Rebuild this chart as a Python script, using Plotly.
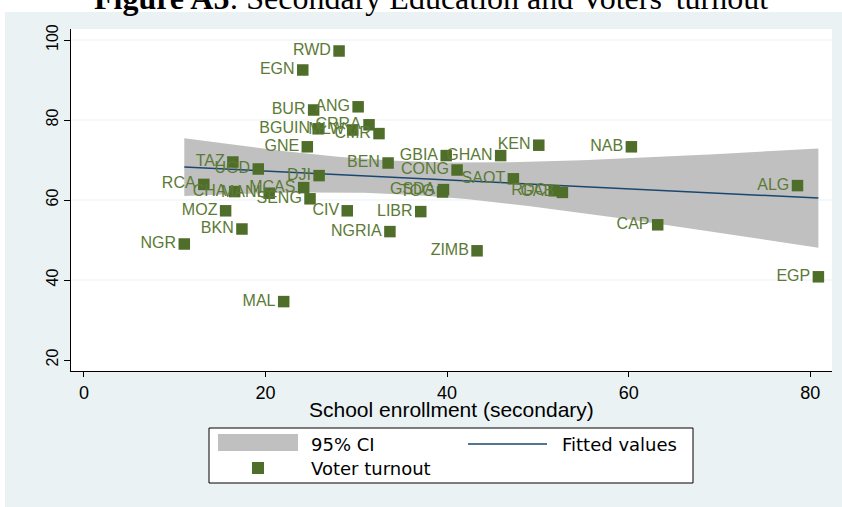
import numpy as np
import plotly.graph_objects as go

# ---- data ----
countries = ["RWD", "EGN", "BUR", "ANG", "CRRA", "BGUIN", "MLW", "CMR", "GNE",
             "TAZ", "UGD", "DJI", "BEN", "GBIA", "GHAN", "CONG", "SAOT", "KEN",
             "RDC", "GAB", "GSDA", "TOG", "RCA", "CHA", "MANI", "MCAS", "SENG",
             "MOZ", "CIV", "LIBR", "BKN", "NGRIA", "NGR", "ZIMB", "MAL", "NAB",
             "ALG", "CAP", "EGP"]
enrollment = [28.1, 24.1, 25.3, 30.2, 31.4, 25.8, 29.6, 32.5, 24.6,
              16.4, 19.2, 25.9, 33.5, 39.9, 45.9, 41.1, 47.3, 50.1,
              51.8, 52.7, 39.6, 39.5, 13.2, 16.6, 20.4, 24.2, 24.9,
              15.6, 29.0, 37.1, 17.4, 33.7, 11.05, 43.3, 22.0, 60.3,
              78.6, 63.2, 80.9]
turnout = [97.25, 92.5, 82.5, 83.3, 78.8, 77.8, 77.5, 76.6, 73.3,
           69.5, 67.75, 66.1, 69.25, 71.1, 71.1, 67.5, 65.3, 73.7,
           62.3, 61.9, 62.6, 62.0, 63.9, 62.1, 61.7, 63.1, 60.3,
           57.3, 57.3, 57.1, 52.75, 52.1, 49.0, 47.3, 34.6, 73.3,
           63.6, 53.8, 40.8]
x_ticks = [0, 20, 40, 60, 80]
y_ticks = [20, 40, 60, 80, 100]
grid_vals = [40, 60, 80, 100]

# ---- linear fit with 95% CI (as Stata lfitci) ----
x = np.array(enrollment)
y = np.array(turnout)
n = len(x)
b, a = np.polyfit(x, y, 1)
resid = y - (a + b * x)
s = np.sqrt(np.sum(resid ** 2) / (n - 2))
xbar = x.mean()
sxx = np.sum((x - xbar) ** 2)
t_crit = 2.026
xs = np.linspace(x.min(), x.max(), 100)
fit = a + b * xs
half = t_crit * s * np.sqrt(1.0 / n + (xs - xbar) ** 2 / sxx)
lo, hi = fit - half, fit + half

GREEN = "#4f6e29"
TXT = "#5b7a35"
NAVY = "#1a476f"
BG = "#eaf2f3"

fig = go.Figure()
fig.add_trace(go.Scatter(x=np.concatenate([xs, xs[::-1]]), y=np.concatenate([hi, lo[::-1]]),
                         fill="toself", fillcolor="#c0c0c0", line=dict(width=0),
                         mode="lines", hoverinfo="skip", showlegend=False))
fig.add_trace(go.Scatter(x=xs, y=fit, mode="lines", line=dict(color=NAVY, width=1.5),
                         showlegend=False))
fig.add_trace(go.Scatter(x=enrollment, y=turnout, mode="markers+text", text=countries,
                         textposition="middle left",
                         textfont=dict(family="Liberation Sans, Arial", size=16, color=TXT),
                         marker=dict(symbol="square", size=11.5, color=GREEN),
                         cliponaxis=False, showlegend=False))

L, R, T, B = 71, 10, 29, 136
W, H = 842, 507
pw, ph = W - L - R, H - T - B


def px(v):
    return (v - L) / pw


def py(v):
    return (H - B - v) / ph


shapes = []
for g in grid_vals:
    shapes.append(dict(type="line", xref="paper", yref="y", x0=0, x1=1, y0=g, y1=g,
                       line=dict(color=BG, width=1.2), layer="below"))
# white page strips outside the chart image
shapes.append(dict(type="rect", xref="paper", yref="paper", x0=px(-20), x1=px(W + 20),
                   y0=py(12), y1=py(-20), fillcolor="white", line=dict(width=0), layer="above"))
shapes.append(dict(type="rect", xref="paper", yref="paper", x0=px(-20), x1=px(5),
                   y0=py(H + 20), y1=py(12), fillcolor="white", line=dict(width=0), layer="above"))
# legend
shapes.append(dict(type="rect", xref="paper", yref="paper", x0=px(209), x1=px(693),
                   y0=py(483), y1=py(428), fillcolor="white", line=dict(color="black", width=1)))
shapes.append(dict(type="rect", xref="paper", yref="paper", x0=px(218), x1=px(298),
                   y0=py(451), y1=py(434), fillcolor="#c0c0c0", line=dict(width=0)))
shapes.append(dict(type="line", xref="paper", yref="paper", x0=px(468), x1=px(547),
                   y0=py(444), y1=py(444), line=dict(color=NAVY, width=1.5)))
shapes.append(dict(type="rect", xref="paper", yref="paper", x0=px(252), x1=px(264),
                   y0=py(474), y1=py(462), fillcolor=GREEN, line=dict(width=0)))

LEGFONT = dict(family="DejaVu Sans", size=18, color="black")
annotations = [
    dict(text="95% CI", xref="paper", yref="paper", x=px(309), y=py(444), xanchor="left",
         yanchor="middle", showarrow=False, font=LEGFONT),
    dict(text="Fitted values", xref="paper", yref="paper", x=px(560), y=py(444), xanchor="left",
         yanchor="middle", showarrow=False, font=LEGFONT),
    dict(text="Voter turnout", xref="paper", yref="paper", x=px(309), y=py(468), xanchor="left",
         yanchor="middle", showarrow=False, font=LEGFONT),
    dict(text="School enrollment (secondary)", xref="paper", yref="paper", x=px(451),
         y=py(410), xanchor="center", yanchor="middle", showarrow=False,
         font=dict(family="Liberation Sans, Arial", size=21, color="black")),
    dict(text="<b>Figure A5</b>: Secondary Education and Voters' turnout", xref="paper",
         yref="paper", x=px(431), y=py(-2), xanchor="center", yanchor="middle",
         showarrow=False, font=dict(family="Liberation Serif, Times New Roman", size=32,
                                    color="black")),
]

fig.update_layout(
    width=W, height=H,
    margin=dict(l=L, r=R, t=T, b=B, pad=0),
    paper_bgcolor=BG, plot_bgcolor="white",
    shapes=shapes, annotations=annotations,
    xaxis=dict(range=[-1.43, 82.4], tickvals=x_ticks, showgrid=False, zeroline=False,
               showline=True, linecolor="black", linewidth=1, ticks="outside", ticklen=5,
               tickcolor="black", mirror=False,
               tickfont=dict(family="Liberation Sans, Arial", size=18, color="black")),
    yaxis=dict(range=[17.25, 102.75], tickvals=y_ticks, showgrid=False, zeroline=False,
               showline=True, linecolor="black", linewidth=1, ticks="outside", ticklen=6,
               tickcolor="black", tickangle=-90,
               tickfont=dict(family="Liberation Sans, Arial", size=16, color="black")),
    showlegend=False,
)

fig.write_html("out.html")
